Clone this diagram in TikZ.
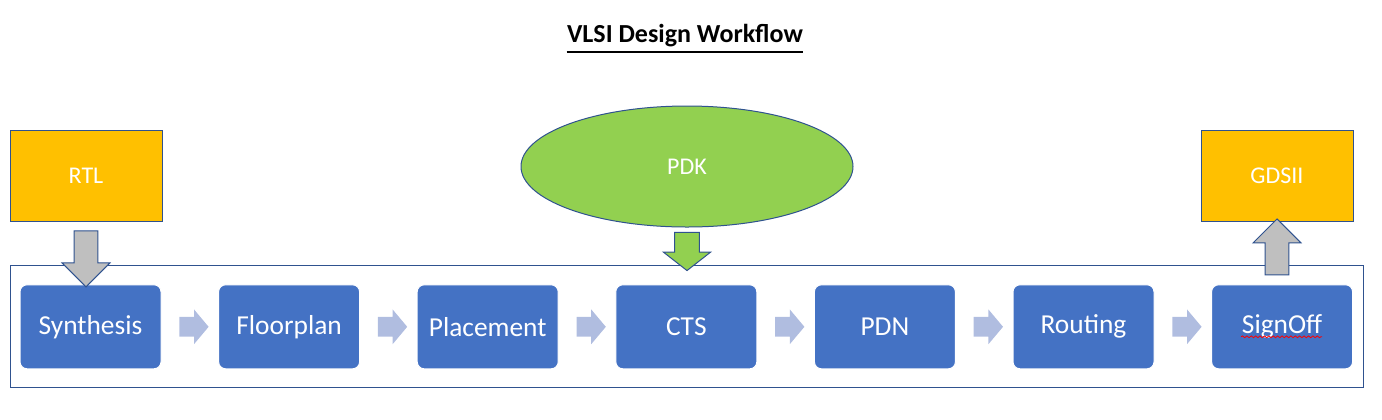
\documentclass[tikz,border=0pt]{standalone}
\usepackage{fontspec}
\setmainfont{Carlito}
\usetikzlibrary{positioning,calc,shapes.geometric,shapes.arrows,decorations.pathmorphing}
\definecolor{stageblue}{HTML}{4472C4}
\definecolor{edgeblue}{HTML}{2F528F}
\definecolor{ioyellow}{HTML}{FFC000}
\definecolor{pdkgreen}{HTML}{92D050}
\definecolor{feedgray}{HTML}{BFBFBF}
\definecolor{nextblue}{HTML}{B0BDE0}

\begin{document}
\begin{tikzpicture}[x=0.5pt,y=-0.5pt,
		stage/.style={rectangle, rounded corners=3.5pt, fill=stageblue, draw=white, line width=0.5pt, text=white,
			minimum width=70.5pt, minimum height=42pt, inner sep=0pt, font=\fontsize{13.7}{16}\selectfont},
		iobox/.style={rectangle, fill=ioyellow, draw=edgeblue, line width=0.5pt, text=white,
			minimum width=76pt, minimum height=45.5pt, inner sep=0pt, font=\fontsize{12}{14}\selectfont},
		nextarrow/.style={single arrow, fill=nextblue, inner xsep=0pt, inner ysep=4.75pt,
			single arrow head extend=3.75pt, minimum height=14.65pt, single arrow tip angle=100},
		feedarrow/.style={single arrow, draw=edgeblue, line width=0.5pt, inner xsep=0pt, inner ysep=5.7pt,
			single arrow head extend=6pt, minimum height=28pt, single arrow tip angle=90}]
		\useasboundingbox (0,0) rectangle (1382,419);
		% title
		\node [inner sep=0pt, anchor=base, font=\bfseries\fontsize{13}{15}\selectfont] (title) at (685,42) {VLSI Design Workflow};
		\draw [line width=1pt] ($(title.base west)+(0,9.5)$) -- ($(title.base east)+(0,9.5)$);
		% frame round the flow
		\draw [edgeblue, line width=0.5pt] (10,265.7) rectangle (1363,387);
		\coordinate (frametop) at (686,265.7);
		% flow stages
		\node [stage] (syn) at (90.5,326.8) {Synthesis};
		\node [stage, right=28.3pt of syn] (flp) {Floorplan};
		\node [stage, right=28.3pt of flp] (plc) {Placement};
		\node [stage, right=28.3pt of plc] (cts) {CTS};
		\node [stage, right=28.3pt of cts] (pdn) {PDN};
		\node [stage, right=28.3pt of pdn] (rte) {Routing};
		\node [stage, right=28.3pt of rte] (sof) {SignOff};
		\draw [red, line width=0.4pt, decorate, decoration={snake, amplitude=0.45pt, segment length=2.2pt}]
			($(sof.center)+(-41,10)$) -- ($(sof.center)+(40,10)$);
		\foreach \a/\b in {syn/flp, flp/plc, plc/cts, cts/pdn, pdn/rte, rte/sof}
			\node [nextarrow] at ($(\a.east)!0.5!(\b.west)$) {};
		% input, output and kit
		\node [iobox] (rtl) at (86,175.5) {RTL};
		\node [iobox] (gds) at (1277,175.5) {GDSII};
		\node [ellipse, fill=pdkgreen, draw=edgeblue, line width=0.5pt, text=white, inner sep=0pt,
			minimum width=166pt, minimum height=60.5pt, font=\fontsize{12}{14}\selectfont] (pdk) at (687,166.5) {PDK};
		\node [feedarrow, fill=feedgray, rotate=-90] (rtlin) at ($(rtl.south)!0.5!(rtl.south|-syn.north)$) {};
		\node [feedarrow, fill=feedgray, rotate=90] (gdsout) at ($(gds.south)!0.5!(gds.south|-sof.north)$) {};
		\node [feedarrow, fill=pdkgreen, rotate=-90, inner ysep=5.9pt, single arrow head extend=5.7pt,
			minimum height=19.15pt, single arrow tip angle=104] (pdkin) at ($(pdk.south)!0.5!(pdk.south|-frametop)$) {};
	\end{tikzpicture}
\end{document}
